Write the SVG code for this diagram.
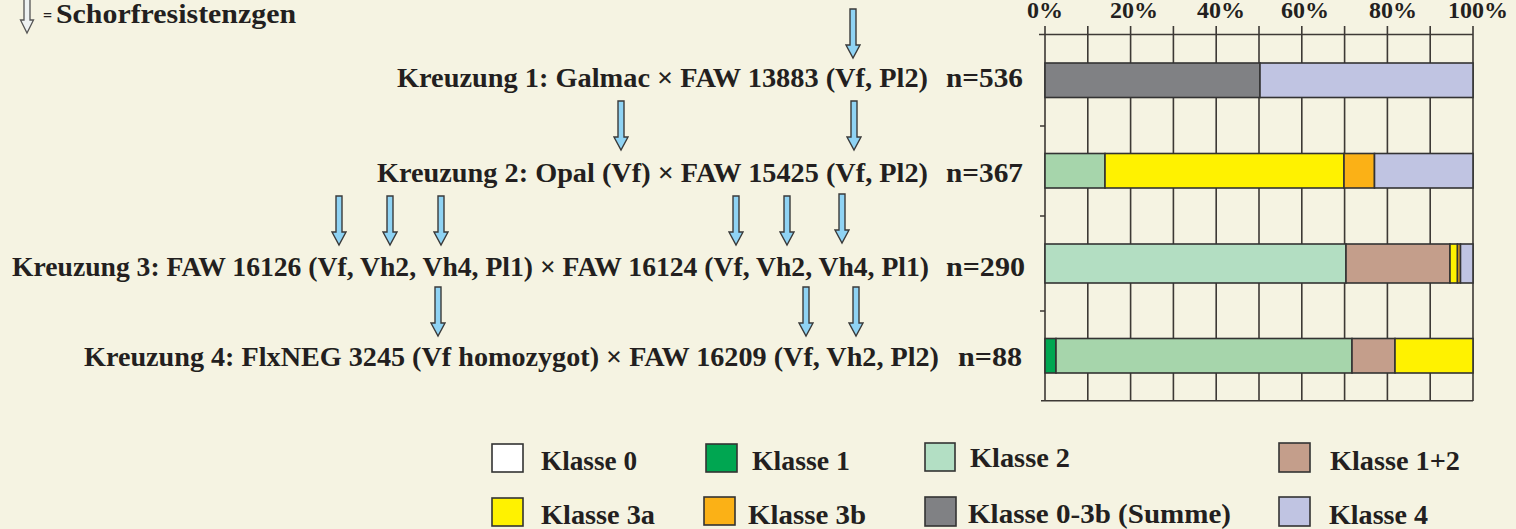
<svg xmlns="http://www.w3.org/2000/svg" xmlns:xlink="http://www.w3.org/1999/xlink" width="1516" height="529" viewBox="0 0 1516 529">
<defs>
<style>
.t{font-family:"Liberation Serif","Times New Roman",serif;font-weight:bold;fill:#231f20;}
.m{font-size:28px;}
.lg{font-size:27.5px;}
.pc{font-size:24px;text-anchor:middle;}
.grid{stroke:#3d3935;stroke-width:1.6;fill:none;}
.bar{stroke:#333;stroke-width:1.6;}
.box{stroke:#333;stroke-width:1.6;}
.arr{fill:#8fd3f4;stroke:#3a3a3a;stroke-width:1.4;stroke-linejoin:miter;}
</style>
<path id="arr" d="M-3,0 H3 V36 H7 L0,49 L-7,36 H-3 Z"/>
</defs>
<rect x="0" y="0" width="1516" height="529" fill="#f5f3e2"/>

<g id="key">
<path d="M24,-5 H30 V20 H33.5 L27,33 L20.5,20 H24 Z" fill="#eef2f2" stroke="#555" stroke-width="1.3"/>
<text class="t" x="43" y="23" style="font-size:28px"><tspan style="font-size:16px" dy="-2">=</tspan><tspan x="56" dy="2" textLength="240" lengthAdjust="spacingAndGlyphs">Schorfresistenzgen</tspan></text>
</g>

<g id="cross1">
<text class="t m" x="397" y="87" textLength="531" lengthAdjust="spacingAndGlyphs">Kreuzung 1: Galmac × FAW 13883 (Vf, Pl2)</text>
<text class="t m" x="946" y="87" textLength="77" lengthAdjust="spacingAndGlyphs">n=536</text>
</g>
<g id="cross2">
<text class="t m" x="377" y="182" textLength="551" lengthAdjust="spacingAndGlyphs">Kreuzung 2: Opal (Vf) × FAW 15425 (Vf, Pl2)</text>
<text class="t m" x="946" y="182" textLength="77" lengthAdjust="spacingAndGlyphs">n=367</text>
</g>
<g id="cross3">
<text class="t m" x="12" y="276" textLength="917" lengthAdjust="spacingAndGlyphs">Kreuzung 3: FAW 16126 (Vf, Vh2, Vh4, Pl1) × FAW 16124 (Vf, Vh2, Vh4, Pl1)</text>
<text class="t m" x="946" y="276" textLength="79" lengthAdjust="spacingAndGlyphs">n=290</text>
</g>
<g id="cross4">
<text class="t m" x="84" y="366" textLength="855" lengthAdjust="spacingAndGlyphs">Kreuzung 4: FlxNEG 3245 (Vf homozygot) × FAW 16209 (Vf, Vh2, Pl2)</text>
<text class="t m" x="958" y="366" textLength="64" lengthAdjust="spacingAndGlyphs">n=88</text>
</g>

<g id="connectors" class="arr">
<use xlink:href="#arr" href="#arr" transform="translate(853,9)"/>
<use xlink:href="#arr" href="#arr" transform="translate(621,101)"/>
<use xlink:href="#arr" href="#arr" transform="translate(854,101)"/>
<use xlink:href="#arr" href="#arr" transform="translate(339,196)"/>
<use xlink:href="#arr" href="#arr" transform="translate(390,196)"/>
<use xlink:href="#arr" href="#arr" transform="translate(441,196)"/>
<use xlink:href="#arr" href="#arr" transform="translate(736,196)"/>
<use xlink:href="#arr" href="#arr" transform="translate(787,196)"/>
<use xlink:href="#arr" href="#arr" transform="translate(842,194)"/>
<use xlink:href="#arr" href="#arr" transform="translate(438,287)"/>
<use xlink:href="#arr" href="#arr" transform="translate(806,287)"/>
<use xlink:href="#arr" href="#arr" transform="translate(856,287)"/>
</g>

<g id="chart">
<g class="pcl">
<text class="t pc" x="1045" y="18">0%</text>
<text class="t pc" x="1134" y="18">20%</text>
<text class="t pc" x="1221" y="18">40%</text>
<text class="t pc" x="1305" y="18">60%</text>
<text class="t pc" x="1393" y="18">80%</text>
<text class="t pc" x="1478" y="18">100%</text>
</g>
<g class="grid">
<path d="M1045,26V401 M1087.8,26V401 M1130.6,26V401 M1173.4,26V401 M1216.2,26V401 M1259,26V401 M1301.8,26V401 M1344.6,26V401 M1387.4,26V401 M1430.2,26V401 M1473,26V401"/>
<path d="M1039,34.5H1473 M1041,400.7H1473 M1040,126H1045 M1040,216H1045 M1040,311H1045"/>
</g>
<g id="bar1" class="bar">
<rect x="1045" y="63" width="215" height="34.5" fill="#808184"/>
<rect x="1260" y="63" width="213" height="34.5" fill="#c0c4e2"/>
</g>
<g id="bar2" class="bar">
<rect x="1045" y="153.5" width="60" height="34.5" fill="#a6d5ab"/>
<rect x="1105" y="153.5" width="239" height="34.5" fill="#fff200"/>
<rect x="1344" y="153.5" width="30.5" height="34.5" fill="#fbb116"/>
<rect x="1374.5" y="153.5" width="98.5" height="34.5" fill="#c0c4e2"/>
</g>
<g id="bar3" class="bar">
<rect x="1045" y="244" width="301" height="39" fill="#b3dec2"/>
<rect x="1346" y="244" width="104" height="39" fill="#c49e8b"/>
<rect x="1450" y="244" width="7.5" height="39" fill="#fff200"/>
<rect x="1457.5" y="244" width="3" height="39" fill="#fbb116"/>
<rect x="1460.5" y="244" width="12.5" height="39" fill="#c0c4e2"/>
</g>
<g id="bar4" class="bar">
<rect x="1045" y="338.5" width="11" height="34.5" fill="#00a651"/>
<rect x="1056" y="338.5" width="296" height="34.5" fill="#a6d5ab"/>
<rect x="1352" y="338.5" width="43" height="34.5" fill="#c49e8b"/>
<rect x="1395" y="338.5" width="78" height="34.5" fill="#fff200"/>
</g>
</g>

<g id="legend">
<g id="leg0"><rect class="box" x="492" y="444" width="31" height="28" fill="#ffffff"/><text class="t lg" x="541" y="470" textLength="96" lengthAdjust="spacingAndGlyphs">Klasse 0</text></g>
<g id="leg1"><rect class="box" x="706" y="444" width="31" height="28" fill="#00a651"/><text class="t lg" x="752" y="470" textLength="98" lengthAdjust="spacingAndGlyphs">Klasse 1</text></g>
<g id="leg2"><rect class="box" x="925" y="443" width="30" height="28" fill="#b3dfc4"/><text class="t lg" x="970" y="467" textLength="100" lengthAdjust="spacingAndGlyphs">Klasse 2</text></g>
<g id="leg12"><rect class="box" x="1279" y="443" width="31" height="29" fill="#c49e8b"/><text class="t lg" x="1330" y="470" textLength="130" lengthAdjust="spacingAndGlyphs">Klasse 1+2</text></g>
<g id="leg3a"><rect class="box" x="492" y="498" width="31" height="28" fill="#fff200"/><text class="t lg" x="541" y="524" textLength="114" lengthAdjust="spacingAndGlyphs">Klasse 3a</text></g>
<g id="leg3b"><rect class="box" x="704" y="497" width="31" height="28" fill="#fbb116"/><text class="t lg" x="748" y="524" textLength="118" lengthAdjust="spacingAndGlyphs">Klasse 3b</text></g>
<g id="leg03b"><rect class="box" x="925" y="497" width="31" height="29" fill="#808184"/><text class="t lg" x="968" y="523" textLength="263" lengthAdjust="spacingAndGlyphs">Klasse 0-3b (Summe)</text></g>
<g id="leg4"><rect class="box" x="1279" y="497" width="31" height="29" fill="#c0c4e2"/><text class="t lg" x="1329" y="524" textLength="99" lengthAdjust="spacingAndGlyphs">Klasse 4</text></g>
</g>
</svg>
